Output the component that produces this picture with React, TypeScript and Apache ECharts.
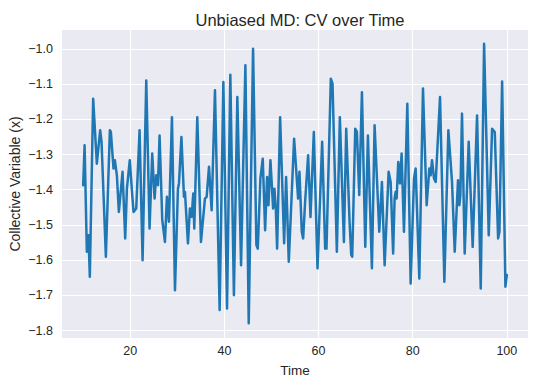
import React, { useEffect, useRef } from "react";
import * as echarts from "echarts";

const time: number[] = [
  10.0, 10.3, 10.78, 11.13, 11.41, 12.12, 12.9, 13.61, 13.9, 14.82, 15.67, 15.88, 16.45, 16.73, 17.16, 17.58,
  18.36, 18.93, 19.29, 19.9, 20.42, 20.7, 21.27, 21.98, 22.62, 23.4, 24.1, 24.67, 25.17, 25.52, 25.88, 26.23,
  26.8, 27.37, 27.79, 28.22, 28.86, 29.5, 30.13, 30.35, 30.87, 31.41, 31.62, 32.26, 32.68, 33.04, 33.39, 33.6,
  34.24, 35.02, 35.87, 36.23, 36.73, 37.29, 38.0, 38.99, 39.78, 40.56, 41.26, 42.02, 42.75, 43.54, 44.46, 45.17,
  46.09, 46.8, 47.09, 47.65, 48.15, 48.65, 49.07, 49.36, 49.78, 50.35, 50.63, 50.92, 51.2, 51.84, 52.69, 53.11,
  53.68, 54.81, 55.66, 55.95, 56.44, 56.73, 57.15, 57.79, 58.29, 59.0, 59.78, 60.77, 61.41, 61.69, 62.61, 62.97,
  63.89, 64.53, 65.39, 65.88, 66.59, 66.95, 67.16, 67.8, 68.15, 68.65, 69.22, 69.93, 70.49, 71.34, 71.91, 72.9,
  73.47, 74.04, 74.89, 75.32, 75.85, 76.16, 76.38, 76.59, 76.94, 77.3, 77.65, 78.15, 78.86, 79.57, 80.28, 80.63,
  81.41, 82.19, 82.97, 83.54, 83.82, 84.11, 84.53, 84.89, 85.81, 86.73, 87.58, 88.36, 88.93, 89.63, 89.92, 90.13,
  90.48, 91.05, 91.9, 92.75, 93.68, 94.46, 95.17, 96.16, 96.87, 97.44, 98.15, 98.43, 99.0, 99.7, 100.0,
];

const cv: number[] = [
  -1.387, -1.274, -1.576, -1.529, -1.647, -1.142, -1.326, -1.231, -1.264, -1.59, -1.231, -1.236, -1.34, -1.316, -1.359, -1.463,
  -1.349, -1.538, -1.397, -1.316, -1.415, -1.463, -1.453, -1.231, -1.6, -1.09, -1.51, -1.297, -1.425, -1.359, -1.387, -1.246,
  -1.486, -1.548, -1.42, -1.491, -1.194, -1.685, -1.397, -1.382, -1.25, -1.42, -1.406, -1.552, -1.453, -1.477, -1.411, -1.51,
  -1.194, -1.548, -1.425, -1.42, -1.335, -1.458, -1.118, -1.741, -1.094, -1.737, -1.074, -1.699, -1.137, -1.614, -1.047, -1.779,
  -1.0, -1.557, -1.567, -1.368, -1.312, -1.515, -1.364, -1.444, -1.316, -1.453, -1.397, -1.453, -1.567, -1.194, -1.552, -1.364,
  -1.604, -1.255, -1.425, -1.349, -1.519, -1.538, -1.434, -1.302, -1.477, -1.236, -1.623, -1.264, -1.567, -1.567, -1.085, -1.099,
  -1.576, -1.194, -1.548, -1.227, -1.491, -1.585, -1.59, -1.227, -1.236, -1.415, -1.123, -1.562, -1.246, -1.623, -1.217, -1.519,
  -1.378, -1.614, -1.349, -1.378, -1.581, -1.425, -1.406, -1.425, -1.321, -1.382, -1.297, -1.519, -1.156, -1.666, -1.368, -1.34,
  -1.652, -1.113, -1.444, -1.34, -1.359, -1.316, -1.368, -1.378, -1.137, -1.661, -1.231, -1.378, -1.576, -1.373, -1.444, -1.415,
  -1.184, -1.581, -1.264, -1.562, -1.189, -1.68, -0.986, -1.529, -1.227, -1.236, -1.538, -1.519, -1.093, -1.675, -1.642,
];

const xTicks: number[] = [20, 40, 60, 80, 100];
const yTicks: number[] = [-1.8, -1.7, -1.6, -1.5, -1.4, -1.3, -1.2, -1.1, -1.0];

const TEXT = "#262626";
const FONT = "'Liberation Sans', Arial, sans-serif";

export default function App() {
  const ref = useRef<HTMLDivElement>(null);

  useEffect(() => {
    if (!ref.current) return;
    const chart = echarts.init(ref.current, undefined, { renderer: "svg" });
    const data = time.map((t, i) => [t, cv[i]]);
    chart.setOption({
      animation: false,
      backgroundColor: "#ffffff",
      title: {
        text: "Unbiased MD: CV over Time",
        left: 295,
        top: 6,
        textAlign: "center",
        textStyle: { color: TEXT, fontSize: 16.5, fontWeight: "normal", fontFamily: FONT },
      },
      grid: {
        left: 62,
        right: 8,
        top: 30,
        bottom: 48,
        show: true,
        backgroundColor: "#EAEAF2",
        borderWidth: 0,
        containLabel: false,
        outerBoundsMode: "none",
      },
      xAxis: {
        type: "value",
        min: 5.5,
        max: 104.5,
        name: "Time",
        nameLocation: "middle",
        nameGap: 25,
        nameMoveOverlap: false,
        nameTextStyle: { color: TEXT, fontSize: 13.5, fontFamily: FONT },
        axisLine: { show: false },
        axisTick: { show: false, customValues: xTicks },
        axisLabel: {
          customValues: xTicks,
          color: TEXT,
          fontSize: 12.5,
          fontFamily: FONT,
          margin: 6,
          formatter: (v: number) => String(Math.round(v)),
        },
        splitLine: { show: true, lineStyle: { color: "#ffffff", width: 1.1 } },
      },
      yAxis: {
        type: "value",
        min: -1.8207,
        max: -0.9467,
        name: "Collective Variable (x)",
        nameLocation: "middle",
        nameGap: 40,
        nameMoveOverlap: false,
        nameTextStyle: { color: TEXT, fontSize: 14, fontFamily: FONT },
        axisLine: { show: false },
        axisTick: { show: false, customValues: yTicks },
        axisLabel: {
          customValues: yTicks,
          color: TEXT,
          fontSize: 12.5,
          fontFamily: FONT,
          margin: 9,
          formatter: (v: number) => (v < 0 ? "\u2212" : "") + Math.abs(v).toFixed(1),
        },
        splitLine: { show: true, lineStyle: { color: "#ffffff", width: 1.1 } },
      },
      series: [
        {
          type: "line",
          data,
          showSymbol: false,
          symbol: "none",
          lineStyle: { color: "#1f77b4", width: 2.5, join: "round", cap: "round" },
          silent: true,
        },
      ],
    });
    return () => chart.dispose();
  }, []);

  return (
    <div
      ref={ref}
      style={{ position: "absolute", left: 0, top: 0, width: 536, height: 386 }}
    />
  );
}
